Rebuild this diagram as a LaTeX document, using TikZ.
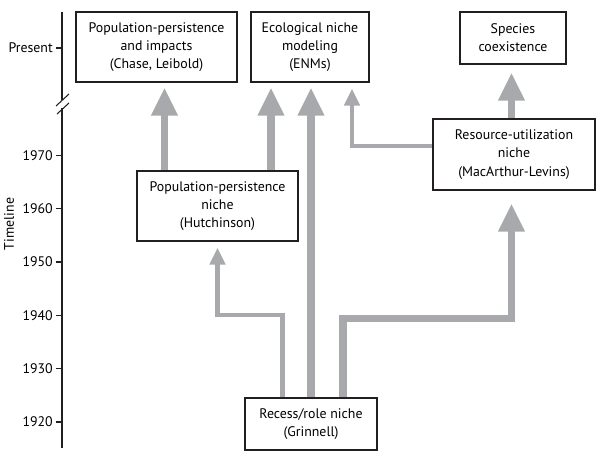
\documentclass[tikz,border=0pt]{standalone}
\usepackage{fontspec}
\setmainfont{PT Sans}
\usetikzlibrary{arrows.meta,calc}

\definecolor{arrowgray}{HTML}{A7A9AC}
\definecolor{boxline}{HTML}{231F20}

\tikzset{
  box/.style={draw=boxline, line width=0.9pt, align=center, inner sep=0pt,
    font=\fontsize{10.4}{13.6}\selectfont},
  thickarrow/.style={draw=arrowgray, line width=5.6pt,
    -{Triangle[width=18.75pt,length=21pt]}},
  thinarrow/.style={draw=arrowgray, line width=3.4pt,
    -{Triangle[width=11.25pt,length=12.75pt]}},
  yearlabel/.style={anchor=east, inner sep=0pt, font=\fontsize{10.4}{12}\selectfont},
}

\begin{document}
\begin{tikzpicture}[x=0.75pt, y=-0.75pt]
\useasboundingbox (0,0) rectangle (600,457);

% time axis
\draw[boxline, line width=0.8pt] (62,12) -- (62,100);
\draw[boxline, line width=0.8pt] (62,108) -- (62,448);
\draw[boxline, line width=0.8pt] (56,106) -- (69,94);
\draw[boxline, line width=0.8pt] (57,114) -- (69,103);

% ticks
\draw[boxline, line width=0.8pt] (56,48) -- (62,48);
\node[yearlabel] (present) at (53,48) {Present};
\foreach \yr [count=\i from 0] in {1920,1930,1940,1950,1960,1970} {
    \draw[boxline, line width=0.8pt] (56,422-53.33*\i) -- (62,422-53.33*\i);
    \node[yearlabel] (y\yr) at (53,422-53.33*\i) {\yr};
}
\node[rotate=90, inner sep=0pt, font=\fontsize{10.4}{12}\selectfont] (timeline) at (9,224) {Timeline};

% boxes
\node[box, minimum width=120.75pt, minimum height=52.5pt] (popimpact) at (156.5,47) {Population-persistence\\and impacts\\(Chase, Leibold)};
\node[box, minimum width=88.5pt, minimum height=52.5pt] (enm) at (310,47) {Ecological niche\\modeling\\(ENMs)};
\node[box, minimum width=79.5pt, minimum height=39pt] (coexist) at (513,38) {Species\\coexistence};
\node[box, minimum width=120.75pt, minimum height=52.5pt] (hutchinson) at (217.5,206) {Population-persistence\\niche\\(Hutchinson)};
\node[box, minimum width=121.5pt, minimum height=53.25pt] (macarthur) at (514,154.5) {Resource-utilization\\niche\\(MacArthur-Levins)};
\node[box, minimum width=99pt, minimum height=39pt] (grinnell) at (311,424) {Recess/role niche\\(Grinnell)};

% arrows
\draw[thickarrow, shorten >=3.75pt] ($(hutchinson.north)+(-53,0)$) -- ($(popimpact.south)+(8,0)$);
\draw[thickarrow, shorten >=3.75pt] ($(hutchinson.north)+(53.5,0)$) -- ($(enm.south)+(-39,0)$);
\draw[thickarrow, shorten >=3.75pt] (grinnell.north) -- ($(enm.south)+(1,0)$);
\draw[thinarrow, shorten >=4.5pt] ($(macarthur.west)+(0,-8.5)$) -| ($(enm.south)+(42,0)$);
\draw[thickarrow, shorten >=6pt] ($(macarthur.north)+(-2.5,0)$) -- ($(coexist.south)+(-1.5,0)$);
\draw[thinarrow, shorten >=4.5pt] ($(grinnell.north)+(-28.5,0)$) -- ++(0,-82.5) -| (hutchinson.south);
\draw[thickarrow, shorten >=9.75pt] ($(grinnell.north)+(32,0)$) -- ++(0,-79) -| ($(macarthur.south)+(-2.5,0)$);

\end{tikzpicture}
\end{document}
